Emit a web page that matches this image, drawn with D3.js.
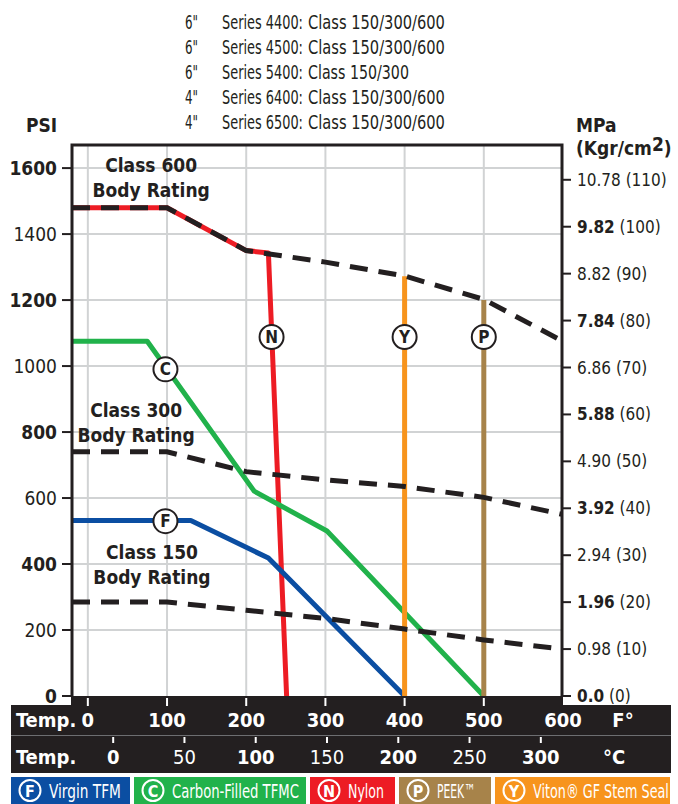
<!DOCTYPE html>
<html>
<head>
<meta charset="utf-8">
<script src="https://cdn.jsdelivr.net/npm/d3@7.9.0/dist/d3.min.js"></script>
<style>
  body { margin: 0; background: #fff; }
  svg { display: block; font-family: 'DejaVu Sans Condensed', 'DejaVu Sans', sans-serif; }
</style>
</head>
<body>
<svg id="chart" width="678" height="804"></svg>
<script>
// header lines
const headerSizes = ['6"', '6"', '6"', '4"', '4"'];
const headerSeries = ['Series 4400:', 'Series 4500:', 'Series 5400:', 'Series 6400:', 'Series 6500:'];
const headerClasses = ['Class 150/300/600', 'Class 150/300/600', 'Class 150/300', 'Class 150/300/600', 'Class 150/300/600'];

// axes
const psiTicks = [0, 200, 400, 600, 800, 1000, 1200, 1400, 1600];
const kgTicks = [0, 10, 20, 30, 40, 50, 60, 70, 80, 90, 100, 110];
const mpaLabels = ['0.0', '0.98', '1.96', '2.94', '3.92', '4.90', '5.88', '6.86', '7.84', '8.82', '9.82', '10.78'];
const fTicks = [0, 100, 200, 300, 400, 500, 600];
const cTicks = [0, 50, 100, 150, 200, 250, 300];
const PSI_PER_KG = 14.2233;

// body ratings (temp F, psi)
const class600 = [[-20, 1480], [100, 1480], [200, 1350], [300, 1315], [400, 1273], [500, 1202], [600, 1075]];
const class300 = [[-20, 740], [100, 740], [200, 680], [300, 655], [400, 635], [500, 602], [600, 550]];
const class150 = [[-20, 285], [100, 285], [200, 260], [300, 235], [400, 203], [500, 170], [600, 142]];

// seat materials (temp F, psi)
const virginTFM = [[-20, 532], [130, 532], [228, 418], [400, 0]];
const carbonTFMC = [[-20, 1075], [75, 1075], [210, 621], [302, 500], [500, 0]];
const nylon = [[-20, 1480], [100, 1480], [200, 1350], [228, 1343], [251, 0]];
const peek = [[500, 1200], [500, 0]];
const viton = [[400, 1272], [400, 0]];

// markers on curves
const markerKeys = ['F', 'C', 'N', 'Y', 'P'];
const markerTemps = [98, 98, 232, 400, 500];
const markerPsi = [530, 990, 1088, 1088, 1088];

// rating labels
const ratingNames = ['Class 600', 'Class 300', 'Class 150'];
const ratingTemps = [80, 61, 81];
const ratingPsi = [1588, 845, 415];

// legend
const legendKeys = ['F', 'C', 'N', 'P', 'Y'];
const legendNames = ['Virgin TFM', 'Carbon-Filled TFMC', 'Nylon', 'PEEK\u2122', 'Viton\u00ae GF Stem Seal'];
const legendColors = ['#0b4ea2', '#21b24b', '#ed1c24', '#a7834a', '#f7941d'];

const ink = '#231f20';
const grid = '#d1d3d4';
const svg = d3.select('#chart');

const x = d3.scaleLinear().domain([-20, 600]).range([72, 563]);
const y = d3.scaleLinear().domain([0, 1670]).range([696, 145]);
const fromC = c => c * 1.8 + 32;

// squeeze a text horizontally to a given width (condensed face look)
function fit(t, w) {
  const n = t.node().getComputedTextLength();
  const x0 = +t.attr('x'), y0 = +t.attr('y');
  t.attr('x', null).attr('y', null)
    .attr('transform', `translate(${x0},${y0}) scale(${w / n},1)`);
  return t;
}

// header
const header = svg.append('g').attr('fill', ink).attr('font-size', 19);
headerSeries.forEach((s, i) => {
  const by = 29 + i * 25;
  fit(header.append('text').attr('x', 185).attr('y', by).text(headerSizes[i]), 13);
  fit(header.append('text').attr('x', 222).attr('y', by).text(s), 81);
  fit(header.append('text').attr('x', 308).attr('y', by).text(headerClasses[i]),
    headerClasses[i].length > 14 ? 137 : 101);
});

svg.append('text').attr('x', 26).attr('y', 132).attr('font-weight', 'bold')
  .attr('font-size', 19).attr('fill', ink).text('PSI');
svg.append('text').attr('x', 576).attr('y', 132).attr('font-weight', 'bold')
  .attr('font-size', 19).attr('fill', ink).text('MPa');
const kgt = svg.append('text').attr('x', 576).attr('y', 155).attr('font-weight', 'bold')
  .attr('font-size', 19).attr('fill', ink);
kgt.append('tspan').text('(Kgr/cm');
kgt.append('tspan').attr('dy', -4).text('2');
kgt.append('tspan').attr('dy', 4).text(')');

// grid
svg.append('g').selectAll('line').data(psiTicks.filter(d => d > 0)).join('line')
  .attr('x1', x(-20)).attr('x2', x(600)).attr('y1', d => y(d)).attr('y2', d => y(d))
  .attr('stroke', grid).attr('stroke-width', 2);
svg.append('g').selectAll('line').data(fTicks.filter(d => d < 600)).join('line')
  .attr('x1', d => x(d)).attr('x2', d => x(d)).attr('y1', y(1670)).attr('y2', y(0))
  .attr('stroke', grid).attr('stroke-width', 2);

// left axis
svg.append('g').selectAll('line').data(psiTicks).join('line')
  .attr('x1', 62).attr('x2', 72).attr('y1', d => y(d)).attr('y2', d => y(d))
  .attr('stroke', ink).attr('stroke-width', 2);
svg.append('g').selectAll('text').data(psiTicks).join('text')
  .attr('x', 57).attr('y', d => y(d) + 7).attr('text-anchor', 'end')
  .attr('font-size', 19).attr('fill', ink)
  .attr('font-weight', (d, i) => i % 2 === 0 ? 'bold' : 'normal')
  .text(d => d);

// right axis
svg.append('g').selectAll('line').data(kgTicks).join('line')
  .attr('x1', 562).attr('x2', 571).attr('y1', d => y(d * PSI_PER_KG)).attr('y2', d => y(d * PSI_PER_KG))
  .attr('stroke', ink).attr('stroke-width', 2);
const rl = svg.append('g').selectAll('text').data(kgTicks).join('text')
  .attr('x', 577).attr('y', d => y(d * PSI_PER_KG) + 6)
  .attr('font-size', 17).attr('fill', ink);
rl.append('tspan').attr('font-weight', (d, i) => i % 2 === 0 ? 'bold' : 'normal').text((d, i) => mpaLabels[i]);
rl.append('tspan').text(d => ` (${d})`);

// series
const clip = svg.append('clipPath').attr('id', 'plot');
clip.append('rect').attr('x', 72).attr('y', 145).attr('width', 490).attr('height', 551);
const plot = svg.append('g').attr('clip-path', 'url(#plot)');
const line = d3.line().x(d => x(d[0])).y(d => y(d[1]));

[[nylon, legendColors[2]], [carbonTFMC, legendColors[1]], [virginTFM, legendColors[0]],
 [viton, legendColors[4]], [peek, legendColors[3]]].forEach(([data, color]) => {
  plot.append('path').datum(data).attr('d', line).attr('fill', 'none')
    .attr('stroke', color).attr('stroke-width', 5).attr('stroke-linejoin', 'round');
});
[class600, class300, class150].forEach(data => {
  plot.append('path').datum(data).attr('d', line).attr('fill', 'none')
    .attr('stroke', ink).attr('stroke-width', 5).attr('stroke-dasharray', '18 11');
});

// rating labels
ratingNames.forEach((name, i) => {
  const g = svg.append('g').attr('font-weight', 'bold').attr('font-size', 19)
    .attr('fill', ink).attr('text-anchor', 'middle');
  g.append('text').attr('x', x(ratingTemps[i])).attr('y', y(ratingPsi[i])).text(name);
  g.append('text').attr('x', x(ratingTemps[i])).attr('y', y(ratingPsi[i]) + 25).text('Body Rating');
});

// markers
const mk = svg.append('g').selectAll('g').data(markerKeys).join('g')
  .attr('transform', (d, i) => `translate(${x(markerTemps[i])},${y(markerPsi[i])})`);
mk.append('circle').attr('r', 12).attr('fill', '#fff').attr('stroke', ink).attr('stroke-width', 2);
mk.append('text').attr('text-anchor', 'middle').attr('y', 6).attr('font-weight', 'bold')
  .attr('font-size', 17).attr('fill', ink).text(d => d);

// frame
svg.append('path')
  .attr('d', `M${x(-20)},${y(0)}V${y(1670)}H562V${y(0)}`)
  .attr('fill', 'none').attr('stroke', ink).attr('stroke-width', 3);

// temperature bands
svg.append('rect').attr('x', 71).attr('y', 696).attr('width', 492).attr('height', 10).attr('fill', ink);
svg.append('rect').attr('x', 11).attr('y', 705).attr('width', 660).attr('height', 30).attr('fill', ink);
svg.append('rect').attr('x', 11).attr('y', 736).attr('width', 660).attr('height', 37).attr('fill', ink);
svg.append('line').attr('x1', 11).attr('x2', 671).attr('y1', 735.5).attr('y2', 735.5)
  .attr('stroke', '#6d6e71').attr('stroke-width', 1);

svg.append('g').selectAll('line').data(fTicks.filter(d => d < 600)).join('line')
  .attr('x1', d => x(d)).attr('x2', d => x(d)).attr('y1', 698).attr('y2', 706)
  .attr('stroke', '#fff').attr('stroke-width', 2);
svg.append('g').selectAll('line').data(cTicks).join('line')
  .attr('x1', d => x(fromC(d))).attr('x2', d => x(fromC(d))).attr('y1', 737).attr('y2', 743)
  .attr('stroke', '#fff').attr('stroke-width', 2);

const band = svg.append('g').attr('fill', '#fff').attr('font-size', 20);
band.append('text').attr('x', 16).attr('y', 727).attr('font-weight', 'bold').text('Temp.');
band.append('text').attr('x', 16).attr('y', 764).attr('font-weight', 'bold').text('Temp.');
band.append('g').selectAll('text').data(fTicks).join('text')
  .attr('x', d => x(d)).attr('y', 727).attr('text-anchor', 'middle').attr('font-weight', 'bold')
  .text(d => d);
band.append('g').selectAll('text').data(cTicks).join('text')
  .attr('x', d => x(fromC(d))).attr('y', 764).attr('text-anchor', 'middle')
  .attr('font-weight', (d, i) => i % 2 === 0 ? 'bold' : 'normal')
  .text(d => d);
band.append('text').attr('x', 623).attr('y', 727).attr('text-anchor', 'middle').attr('font-weight', 'bold').text('F\u00b0');
band.append('text').attr('x', 614).attr('y', 764).attr('text-anchor', 'middle').attr('font-weight', 'bold').text('\u00b0C');

// legend
const legendWidths = [119, 172, 85, 92, 175];
const legendTextWidths = [72, 127, 36, 38, 136];
let lx = 11;
legendKeys.forEach((k, i) => {
  const g = svg.append('g').attr('transform', `translate(${lx},777)`);
  g.append('rect').attr('width', legendWidths[i]).attr('height', 27).attr('fill', legendColors[i]);
  g.append('circle').attr('cx', 19).attr('cy', 13.5).attr('r', 10.5).attr('fill', 'none')
    .attr('stroke', '#fff').attr('stroke-width', 2);
  g.append('text').attr('x', 19).attr('y', 19.5).attr('text-anchor', 'middle').attr('fill', '#fff')
    .attr('font-weight', 'bold').attr('font-size', 16).text(k);
  fit(g.append('text').attr('x', 38).attr('y', 21).attr('fill', '#fff')
    .attr('font-size', 19).text(legendNames[i]), legendTextWidths[i]);
  lx += legendWidths[i] + 4;
});
</script>
</body>
</html>
